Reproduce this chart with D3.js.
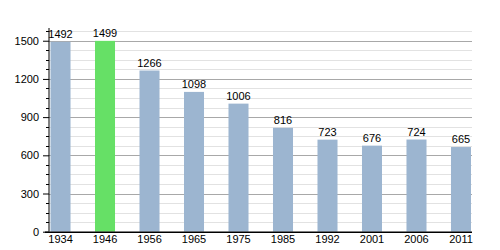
<!DOCTYPE html>
<html>
<head>
<meta charset="UTF-8">
<script src="https://d3js.org/d3.v7.min.js"></script>
<style>
  body { margin: 0; background: #fff; }
  text { font-family: "Liberation Sans", Arial, sans-serif; font-size: 11px; fill: #000; }
</style>
</head>
<body>
<svg width="500" height="250"></svg>
<script>
// population by census year
const years = ["1934", "1946", "1956", "1965", "1975", "1985", "1992", "2001", "2006", "2011"];
const population = [1492, 1499, 1266, 1098, 1006, 816, 723, 676, 724, 665];
const highlight = ["1946"];
const majorTicks = [0, 300, 600, 900, 1200, 1500];
const minorTicks = d3.range(75, 1600, 75).filter(v => v % 300 !== 0);

const svg = d3.select("svg");
const plotLeft = 49, plotRight = 472, plotTop = 28, plotBottom = 231.7;

const x = d3.scaleBand().domain(years).range([50.5, 471]).paddingInner(0.55).paddingOuter(0);
const y = d3.scaleLinear().domain([0, 1600]).range([plotBottom, plotTop]);

// minor gridlines
svg.append("g").selectAll("line").data(minorTicks).enter().append("line")
  .attr("x1", plotLeft).attr("x2", plotRight)
  .attr("y1", d => Math.round(y(d)) + 0.5).attr("y2", d => Math.round(y(d)) + 0.5)
  .attr("stroke", "#e2e2e2");

// major gridlines
svg.append("g").selectAll("line").data(majorTicks.filter(d => d > 0)).enter().append("line")
  .attr("x1", plotLeft).attr("x2", plotRight)
  .attr("y1", d => Math.round(y(d)) + 0.5).attr("y2", d => Math.round(y(d)) + 0.5)
  .attr("stroke", "#a8a8a8");

// bars
svg.append("g").selectAll("rect").data(population).enter().append("rect")
  .attr("x", (d, i) => x(years[i]))
  .attr("width", x.bandwidth())
  .attr("y", d => y(d))
  .attr("height", d => plotBottom - y(d))
  .attr("fill", (d, i) => highlight.includes(years[i]) ? "#66e066" : "#9cb5d0");

// value labels
svg.append("g").selectAll("text").data(population).enter().append("text")
  .attr("x", (d, i) => x(years[i]) + x.bandwidth() / 2)
  .attr("y", d => y(d) - 4)
  .attr("text-anchor", "middle")
  .text(d => d);

// y axis
const yAxis = svg.append("g").attr("transform", "translate(" + plotLeft + ",0)");
yAxis.call(d3.axisLeft(y).tickValues(majorTicks).tickFormat(d3.format("d")).tickSize(6).tickPadding(4));
yAxis.select(".domain").remove();
yAxis.append("line").attr("x1", 0).attr("x2", 0).attr("y1", plotTop).attr("y2", plotBottom).attr("stroke", "#000");
yAxis.selectAll(".tick line").attr("stroke", "#000");
yAxis.selectAll(".tick text").attr("font-size", 11).attr("font-family", "Liberation Sans, Arial, sans-serif");
yAxis.append("g").selectAll("line").data(minorTicks).enter().append("line")
  .attr("x1", -3).attr("x2", 0)
  .attr("y1", d => Math.round(y(d)) + 0.5).attr("y2", d => Math.round(y(d)) + 0.5)
  .attr("stroke", "#000");

// x axis
const xAxis = svg.append("g").attr("transform", "translate(0," + plotBottom + ")");
xAxis.call(d3.axisBottom(x).tickSize(0).tickPadding(4));
xAxis.select(".domain").remove();
xAxis.append("line").attr("x1", plotLeft - 4).attr("x2", plotRight).attr("y1", 0.5).attr("y2", 0.5)
  .attr("stroke", "#000").attr("stroke-width", 1.5);
xAxis.selectAll(".tick text").attr("font-size", 11).attr("font-family", "Liberation Sans, Arial, sans-serif");
</script>
</body>
</html>
